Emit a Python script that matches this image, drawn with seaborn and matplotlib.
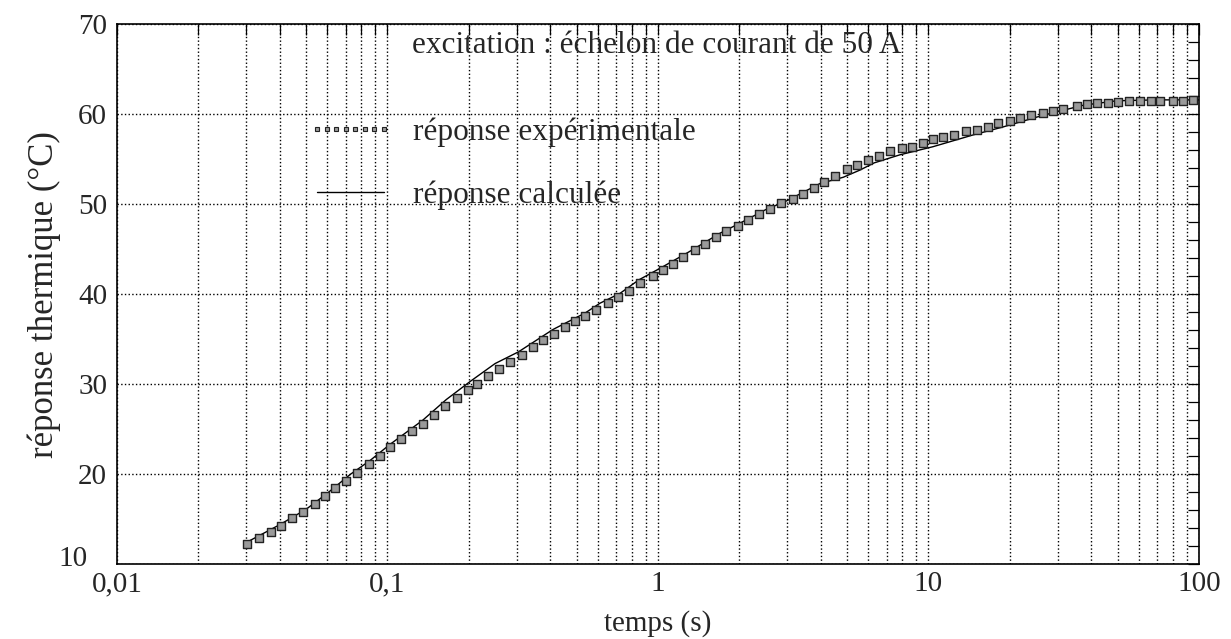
import matplotlib
matplotlib.use("Agg")
import matplotlib.pyplot as plt
from matplotlib.lines import Line2D
from matplotlib.ticker import FixedLocator, FixedFormatter, LogLocator, NullFormatter, MultipleLocator
import seaborn as sns

# experimental response (time in s, temperature in deg C)
t_exp = [0.0302, 0.0335, 0.0370, 0.0403, 0.0444, 0.0489, 0.0540, 0.0589, 0.0641, 0.0702,
         0.0771, 0.0857, 0.0938, 0.102, 0.112, 0.123, 0.135, 0.149, 0.163, 0.180,
         0.198, 0.215, 0.236, 0.259, 0.284, 0.313, 0.344, 0.377, 0.412, 0.454,
         0.493, 0.537, 0.590, 0.652, 0.713, 0.783, 0.858, 0.955, 1.04, 1.14,
         1.24, 1.37, 1.49, 1.64, 1.79, 1.97, 2.16, 2.36, 2.59, 2.85,
         3.15, 3.44, 3.77, 4.12, 4.51, 4.98, 5.43, 5.96, 6.58, 7.21,
         7.96, 8.67, 9.57, 10.4, 11.3, 12.4, 13.8, 15.1, 16.6, 18.1,
         20.0, 21.8, 23.9, 26.6, 28.9, 31.3, 35.3, 38.5, 41.9, 46.2,
         50.3, 55.2, 60.5, 66.3, 71.7, 80.3, 87.5, 95.3]
y_exp = [12.2, 12.9, 13.6, 14.3, 15.1, 15.8, 16.7, 17.6, 18.5, 19.3,
         20.1, 21.1, 22.0, 23.0, 23.9, 24.8, 25.6, 26.6, 27.6, 28.5,
         29.4, 30.0, 30.9, 31.7, 32.5, 33.3, 34.1, 34.9, 35.6, 36.4,
         37.0, 37.6, 38.2, 39.0, 39.7, 40.4, 41.3, 42.0, 42.7, 43.4,
         44.1, 44.9, 45.6, 46.4, 47.0, 47.6, 48.2, 48.9, 49.5, 50.1,
         50.6, 51.1, 51.8, 52.5, 53.1, 53.9, 54.4, 54.9, 55.4, 55.9,
         56.3, 56.4, 56.8, 57.2, 57.5, 57.7, 58.1, 58.3, 58.6, 59.0,
         59.3, 59.6, 59.9, 60.1, 60.4, 60.6, 60.9, 61.1, 61.2, 61.3,
         61.4, 61.5, 61.5, 61.5, 61.5, 61.5, 61.5, 61.6]

# calculated response
t_calc = [0.030, 0.040, 0.050, 0.060, 0.073, 0.086, 0.102, 0.135, 0.165, 0.202,
          0.25, 0.305, 0.41, 0.537, 0.61, 0.724, 0.85, 1.02, 1.3, 1.7,
          2.01, 2.5, 3.0, 3.97, 4.84, 5.58, 6.3, 7.85, 10.4, 14.6,
          18.9, 26.6, 37.3, 49.6, 70, 100]
y_calc = [12.4, 14.4, 16.1, 17.9, 20.0, 21.5, 23.3, 26.0, 28.3, 30.3,
          32.3, 33.6, 36.1, 37.9, 39.0, 40.1, 41.6, 42.9, 44.7, 46.8,
          47.9, 49.4, 50.4, 52.3, 53.0, 53.8, 54.6, 55.5, 56.4, 57.7,
          58.6, 59.9, 61.0, 61.5, 61.6, 61.6]

x_ticks = [0.01, 0.1, 1, 10, 100]
x_ticklabels = ['0,01', '0,1', '1', '10', '100']
y_ticks = [10, 20, 30, 40, 50, 60, 70]
y_ticklabels = ['', '20', '30', '40', '50', '60', '70']

sns.set_style("white")
plt.rcParams['font.family'] = ['Liberation Serif', 'DejaVu Serif']
plt.rcParams['font.size'] = 21

fig, ax = plt.subplots(figsize=(12.31, 6.39), dpi=100)
fig.subplots_adjust(left=0.095, right=0.974, bottom=0.117, top=0.962)

sns.lineplot(x=t_calc, y=y_calc, color='black', linewidth=1.0, ax=ax, zorder=3)
sns.scatterplot(x=t_exp, y=y_exp, marker='s', s=26, color='#9a9a9a',
                edgecolor='#222222', linewidth=1.0, ax=ax, zorder=4)

ax.set_xscale('log')
ax.set_xlim(0.01, 100)
ax.set_ylim(10, 70)
ax.xaxis.set_major_locator(FixedLocator(x_ticks))
ax.xaxis.set_major_formatter(FixedFormatter(x_ticklabels))
ax.xaxis.set_minor_locator(LogLocator(base=10, subs=range(2, 10)))
ax.xaxis.set_minor_formatter(NullFormatter())
ax.yaxis.set_major_locator(FixedLocator(y_ticks))
ax.yaxis.set_major_formatter(FixedFormatter(y_ticklabels))
ax.yaxis.set_minor_locator(MultipleLocator(2))

ax.grid(which='both', axis='x', linestyle=':', color='black', linewidth=1.0)
ax.grid(which='major', axis='y', linestyle=':', color='black', linewidth=1.0)

ax.tick_params(which='both', direction='in', top=True, right=True,
               length=8, width=0.9, color='black', labelsize=21)
ax.tick_params(axis='x', pad=5)
ax.tick_params(axis='y', pad=7)
for sp in ax.spines.values():
    sp.set_color('black')
    sp.set_linewidth(1.2)

# bottom-left "10" sits up and left of the 0,01 label
ax.text(-0.027, 10.6, '10', transform=ax.get_yaxis_transform(),
        ha='right', va='center', fontsize=21)

ax.set_xlabel('temps (s)', fontsize=21, labelpad=9)
ax.set_ylabel('réponse thermique (°C)', fontsize=25, labelpad=12)

ax.text(0.273, 0.961, 'excitation : échelon de courant de 50 A', transform=ax.transAxes,
        ha='left', va='center', fontsize=22.5)

h_exp = Line2D([], [], linestyle='none', marker='s', markersize=3.5,
               markerfacecolor='#9a9a9a', markeredgecolor='#222222', markeredgewidth=0.8)
h_calc = Line2D([], [], color='black', linewidth=1.0)
ax.legend(handles=[h_exp, h_calc], labels=['réponse expérimentale', 'réponse calculée'],
          loc='upper left', bbox_to_anchor=(0.1765, 0.827), frameon=False,
          borderpad=0, borderaxespad=0, handlelength=2.72, handletextpad=0.64,
          labelspacing=1.05, numpoints=8, fontsize=22.5)

fig.savefig('out.png', dpi=100)
